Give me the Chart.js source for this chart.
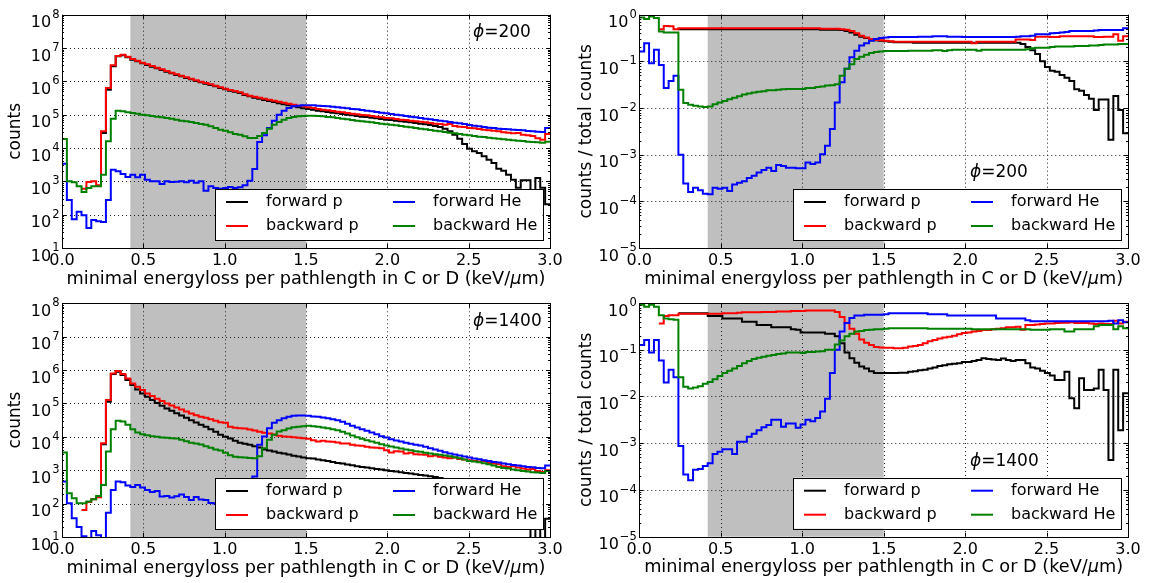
<!DOCTYPE html>
<html>
<head>
<meta charset="utf-8">
<script src="https://cdn.jsdelivr.net/npm/chart.js@4.4.0/dist/chart.umd.min.js"></script>
<style>
  body { margin: 0; background: #fff; }
  #wrap { position: relative; width: 1150px; height: 583px; }
  #wrap canvas { position: absolute; }
</style>
</head>
<body>
<div id="wrap">
  <canvas id="tl" width="575" height="291" style="left:0;top:0"></canvas>
  <canvas id="tr" width="575" height="291" style="left:575px;top:0"></canvas>
  <canvas id="bl" width="575" height="292" style="left:0;top:291px"></canvas>
  <canvas id="br" width="575" height="292" style="left:575px;top:291px"></canvas>
</div>
<script>
// ========== DATA ==========
// histogram bins: 100 bins of 0.03 keV/um from 0 to 3.0
const binWidth = 0.03;
const binStarts = Array.from({ length: 100 }, (_, i) => +(i * binWidth).toFixed(2));
const xTicks = [0, 0.5, 1.0, 1.5, 2.0, 2.5, 3.0];
const countExps = [1, 2, 3, 4, 5, 6, 7, 8];
const ratioExps = [-5, -4, -3, -2, -1, 0];
const seriesNames = ['forward p', 'backward p', 'forward He', 'backward He'];
const seriesColors = ['#000000', '#ff0000', '#0000ff', '#008000'];
const shadedRange = [0.42, 1.5];

// all values are log10 (counts or counts / total counts), null = empty bin
// --- phi = 200, counts ---
const fwdP200 = [
  null,null,null,null,null,null,null,null,4.45,5.75,
  6.45,6.75,6.78,6.72,6.65,6.6,6.54,6.49,6.44,6.39,
  6.34,6.29,6.24,6.19,6.15,6.1,6.06,6.01,5.97,5.93,
  5.89,5.85,5.8,5.76,5.72,5.69,5.65,5.59,5.55,5.51,
  5.48,5.44,5.41,5.38,5.34,5.31,5.28,5.25,5.22,5.19,
  5.17,5.15,5.12,5.1,5.08,5.06,5.04,5.02,5.0,4.98,
  4.96,4.94,4.93,4.91,4.89,4.87,4.85,4.84,4.82,4.8,
  4.79,4.77,4.75,4.73,4.71,4.69,4.66,4.63,4.58,4.5,
  4.4,4.28,4.12,3.98,3.9,3.85,3.75,3.65,3.55,3.38,
  3.32,3.2,3.05,2.81,3.03,3.03,2.17,3.1,2.81,2.31
];
const bwdP200 = [
  null,null,null,null,2.78,2.98,3.0,2.88,4.5,5.8,
  6.48,6.76,6.8,6.74,6.67,6.62,6.56,6.51,6.46,6.41,
  6.36,6.31,6.26,6.21,6.17,6.12,6.08,6.03,5.99,5.95,
  5.91,5.87,5.82,5.78,5.74,5.71,5.67,5.61,5.57,5.54,
  5.51,5.48,5.45,5.42,5.39,5.36,5.33,5.3,5.27,5.25,
  5.22,5.2,5.17,5.15,5.13,5.11,5.09,5.07,5.05,5.03,
  5.01,4.99,4.98,4.96,4.94,4.92,4.9,4.89,4.87,4.85,
  4.84,4.82,4.8,4.79,4.77,4.75,4.73,4.72,4.7,4.72,
  4.66,4.64,4.63,4.6,4.59,4.57,4.55,4.53,4.52,4.5,
  4.47,4.46,4.44,4.45,4.4,4.38,4.36,4.29,4.25,4.42
];
const fwdHe200 = [
  3.53,2.44,1.86,2.09,1.98,1.6,1.84,1.8,1.78,2.44,
  3.35,3.3,3.22,3.13,3.2,3.12,3.2,3.05,3.0,3.0,
  2.92,3.0,2.98,2.99,3.0,2.97,3.02,2.96,3.0,2.72,
  2.85,2.8,2.78,2.8,2.83,2.8,2.82,2.88,3.02,3.37,
  4.18,4.38,4.6,4.82,5.0,5.12,5.2,5.25,5.27,5.28,
  5.28,5.28,5.27,5.26,5.25,5.24,5.22,5.21,5.19,5.17,
  5.16,5.14,5.12,5.1,5.08,5.06,5.04,5.02,5.0,4.98,
  4.96,4.94,4.92,4.9,4.88,4.86,4.84,4.82,4.8,4.78,
  4.76,4.74,4.72,4.69,4.67,4.65,4.63,4.61,4.6,4.58,
  4.57,4.56,4.55,4.54,4.53,4.51,4.5,4.49,4.48,4.6
];
const bwdHe200 = [
  4.27,3.0,2.97,2.85,2.68,2.8,2.85,2.85,3.2,4.2,
  4.88,5.12,5.1,5.07,5.05,5.03,5.0,4.98,4.96,4.94,
  4.92,4.9,4.88,4.85,4.82,4.8,4.78,4.75,4.72,4.7,
  4.65,4.6,4.55,4.52,4.47,4.42,4.4,4.35,4.3,4.3,
  4.36,4.45,4.58,4.7,4.78,4.85,4.9,4.93,4.95,4.96,
  4.97,4.97,4.96,4.95,4.93,4.92,4.9,4.88,4.86,4.84,
  4.82,4.8,4.79,4.77,4.75,4.73,4.71,4.7,4.68,4.66,
  4.64,4.62,4.6,4.58,4.56,4.54,4.52,4.5,4.48,4.46,
  4.44,4.42,4.4,4.38,4.36,4.34,4.33,4.31,4.29,4.28,
  4.26,4.25,4.23,4.22,4.21,4.19,4.18,4.17,4.16,4.19
];

// --- phi = 200, counts / total counts ---
const fwdP200r = [
  null,null,null,null,null,null,null,null,-0.31,-0.31,
  -0.31,-0.31,-0.31,-0.31,-0.31,-0.31,-0.31,-0.31,-0.31,-0.31,
  -0.31,-0.31,-0.31,-0.31,-0.31,-0.31,-0.31,-0.31,-0.31,-0.31,
  -0.31,-0.31,-0.31,-0.31,-0.31,-0.31,-0.31,-0.32,-0.32,-0.32,
  -0.32,-0.33,-0.35,-0.38,-0.43,-0.47,-0.5,-0.53,-0.55,-0.56,
  -0.57,-0.58,-0.59,-0.59,-0.59,-0.59,-0.6,-0.6,-0.6,-0.6,
  -0.6,-0.6,-0.6,-0.6,-0.6,-0.6,-0.6,-0.6,-0.6,-0.6,
  -0.6,-0.6,-0.6,-0.6,-0.6,-0.6,-0.6,-0.6,-0.63,-0.69,
  -0.76,-0.84,-1.0,-1.12,-1.2,-1.22,-1.29,-1.35,-1.42,-1.6,
  -1.63,-1.72,-1.8,-2.04,-1.82,-1.82,-2.68,-1.74,-2.04,-2.54
];
const bwdP200r = [
  null,null,null,null,-0.31,-0.24,-0.25,-0.31,-0.29,-0.29,
  -0.29,-0.29,-0.29,-0.29,-0.29,-0.29,-0.29,-0.29,-0.29,-0.29,
  -0.29,-0.29,-0.29,-0.29,-0.29,-0.29,-0.29,-0.29,-0.29,-0.29,
  -0.29,-0.29,-0.29,-0.29,-0.29,-0.29,-0.29,-0.3,-0.3,-0.3,
  -0.3,-0.31,-0.32,-0.35,-0.4,-0.45,-0.49,-0.52,-0.54,-0.55,
  -0.56,-0.57,-0.58,-0.58,-0.58,-0.58,-0.58,-0.58,-0.58,-0.58,
  -0.58,-0.58,-0.58,-0.58,-0.58,-0.58,-0.58,-0.58,-0.61,-0.58,
  -0.58,-0.58,-0.58,-0.58,-0.58,-0.58,-0.58,-0.53,-0.53,-0.53,
  -0.54,-0.47,-0.47,-0.47,-0.48,-0.48,-0.46,-0.46,-0.46,-0.46,
  -0.46,-0.46,-0.46,-0.48,-0.48,-0.47,-0.47,-0.42,-0.56,-0.46
];
const fwdHe200r = [
  -0.79,-0.61,-1.04,-0.75,-1.08,-1.57,-1.42,-1.31,-3.0,-3.62,
  -3.8,-3.71,-3.76,-3.84,-3.85,-3.71,-3.73,-3.71,-3.78,-3.64,
  -3.6,-3.57,-3.5,-3.45,-3.38,-3.33,-3.28,-3.35,-3.22,-3.24,
  -3.28,-3.28,-3.29,-3.29,-3.17,-3.2,-3.17,-2.99,-2.81,-2.45,
  -1.88,-1.45,-1.16,-0.91,-0.77,-0.66,-0.61,-0.56,-0.52,-0.5,
  -0.49,-0.48,-0.48,-0.48,-0.48,-0.48,-0.48,-0.47,-0.47,-0.47,
  -0.46,-0.46,-0.46,-0.47,-0.47,-0.47,-0.48,-0.48,-0.48,-0.48,
  -0.48,-0.48,-0.48,-0.48,-0.48,-0.48,-0.48,-0.47,-0.46,-0.46,
  -0.45,-0.42,-0.42,-0.42,-0.4,-0.39,-0.38,-0.37,-0.35,-0.35,
  -0.35,-0.35,-0.35,-0.34,-0.33,-0.33,-0.33,-0.33,-0.33,-0.29
];
const bwdHe200r = [
  -0.06,-0.09,-0.04,-0.07,-0.36,-0.38,-0.38,-0.38,-1.61,-1.89,
  -1.93,-1.95,-1.97,-1.98,-1.97,-1.92,-1.88,-1.85,-1.81,-1.78,
  -1.75,-1.71,-1.69,-1.67,-1.65,-1.64,-1.62,-1.62,-1.61,-1.6,
  -1.59,-1.59,-1.59,-1.59,-1.57,-1.57,-1.55,-1.54,-1.52,-1.51,
  -1.49,-1.31,-1.16,-1.06,-0.95,-0.9,-0.86,-0.82,-0.8,-0.79,
  -0.78,-0.78,-0.78,-0.78,-0.78,-0.77,-0.77,-0.77,-0.77,-0.77,
  -0.76,-0.76,-0.78,-0.76,-0.75,-0.75,-0.75,-0.75,-0.75,-0.77,
  -0.75,-0.75,-0.75,-0.75,-0.75,-0.75,-0.75,-0.75,-0.75,-0.74,
  -0.72,-0.71,-0.71,-0.71,-0.69,-0.68,-0.68,-0.68,-0.68,-0.67,
  -0.67,-0.67,-0.66,-0.66,-0.65,-0.64,-0.64,-0.64,-0.63,-0.63
];

// --- phi = 1400, counts ---
const fwdP1400 = [
  null,null,null,null,null,null,null,null,3.78,5.05,
  5.88,5.95,5.85,5.7,5.55,5.42,5.3,5.2,5.1,5.01,
  4.93,4.85,4.78,4.71,4.64,4.57,4.5,4.43,4.36,4.3,
  4.23,4.15,4.06,4.0,3.95,3.88,3.82,3.79,3.76,3.72,
  3.68,3.62,3.59,3.56,3.52,3.5,3.47,3.43,3.41,3.38,
  3.36,3.35,3.32,3.3,3.28,3.25,3.22,3.2,3.17,3.15,
  3.12,3.1,3.08,3.06,3.04,3.02,3.0,2.98,2.96,2.94,
  2.92,2.9,2.88,2.86,2.84,2.82,2.8,2.77,2.74,2.7,
  2.65,2.6,2.55,2.5,2.4,2.35,2.3,2.2,1.6,1.35,
  2.0,1.75,1.75,1.75,2.1,1.65,-1,2.1,0.7,1.55
];
const bwdP1400 = [
  null,null,null,null,1.81,2.05,2.13,2.19,3.81,5.1,
  5.9,5.97,5.88,5.75,5.6,5.5,5.4,5.3,5.22,5.14,
  5.07,5.0,4.94,4.88,4.82,4.76,4.7,4.65,4.6,4.57,
  4.53,4.48,4.44,4.42,4.3,4.27,4.26,4.25,4.22,4.19,
  4.15,4.12,4.1,4.07,4.03,4.01,4.0,3.99,3.97,3.96,
  3.94,3.9,3.86,3.88,3.86,3.85,3.83,3.8,3.8,3.76,
  3.74,3.73,3.7,3.68,3.67,3.66,3.6,3.53,3.57,3.56,
  3.5,3.52,3.48,3.47,3.46,3.42,3.44,3.4,3.38,3.36,
  3.38,3.34,3.32,3.3,3.28,3.26,3.28,3.22,3.2,3.18,
  3.12,3.1,3.12,3.08,3.05,3.02,3.04,2.98,2.95,3.0
];
const fwdHe1400 = [
  2.66,2.01,1.56,1.3,1.02,0.95,1.18,1.05,0.95,1.73,
  2.41,2.66,2.64,2.54,2.5,2.56,2.48,2.41,2.35,2.38,
  2.21,2.23,2.18,2.22,2.27,2.2,2.11,2.2,2.12,2.11,
  2.02,2.0,2.05,2.1,2.15,2.1,2.2,2.3,2.45,2.81,
  3.76,4.01,4.26,4.42,4.5,4.56,4.6,4.63,4.64,4.64,
  4.63,4.61,4.6,4.58,4.56,4.53,4.5,4.45,4.39,4.33,
  4.28,4.23,4.18,4.13,4.08,4.02,3.98,3.93,3.89,3.86,
  3.82,3.79,3.76,3.74,3.7,3.66,3.62,3.58,3.54,3.5,
  3.47,3.44,3.41,3.38,3.35,3.33,3.3,3.28,3.25,3.23,
  3.2,3.18,3.16,3.14,3.12,3.1,3.09,3.07,3.06,3.14
];
const bwdHe1400 = [
  3.53,2.31,2.16,2.01,2.01,2.06,2.13,2.23,2.56,3.56,
  4.23,4.48,4.46,4.36,4.23,4.13,4.08,4.05,4.02,4.0,
  3.98,3.97,3.96,3.95,3.91,3.87,3.82,3.8,3.77,3.72,
  3.67,3.62,3.59,3.52,3.45,3.4,3.39,3.38,3.37,3.36,
  3.42,3.66,3.91,4.06,4.16,4.2,4.25,4.29,4.3,4.32,
  4.33,4.32,4.3,4.28,4.26,4.23,4.2,4.15,4.1,4.04,
  3.99,3.94,3.9,3.86,3.82,3.78,3.74,3.71,3.68,3.65,
  3.62,3.6,3.57,3.55,3.52,3.5,3.48,3.46,3.44,3.42,
  3.39,3.36,3.32,3.28,3.26,3.24,3.21,3.18,3.14,3.1,
  3.07,3.05,3.02,3.0,2.98,2.96,2.94,2.93,2.92,2.98
];

// --- phi = 1400, counts / total counts ---
const fwdP1400r = [
  null,null,null,null,null,null,null,null,-0.22,-0.22,
  -0.22,-0.22,-0.22,-0.22,-0.28,-0.28,-0.28,-0.33,-0.33,-0.33,
  -0.33,-0.4,-0.4,-0.4,-0.47,-0.47,-0.47,-0.52,-0.52,-0.52,
  -0.52,-0.56,-0.57,-0.63,-0.63,-0.63,-0.63,-0.63,-0.66,-0.66,
  -0.71,-0.86,-1.06,-1.18,-1.28,-1.36,-1.4,-1.46,-1.5,-1.5,
  -1.5,-1.5,-1.5,-1.49,-1.49,-1.47,-1.46,-1.44,-1.43,-1.4,
  -1.38,-1.35,-1.33,-1.31,-1.3,-1.29,-1.26,-1.26,-1.24,-1.22,
  -1.18,-1.2,-1.21,-1.22,-1.19,-1.22,-1.24,-1.22,-1.22,-1.29,
  -1.38,-1.4,-1.45,-1.5,-1.55,-1.65,-1.65,-1.47,-2.04,-2.25,
  -1.61,-1.86,-1.86,-1.83,-1.43,-1.86,-3.36,-1.43,-2.72,-1.93
];
const bwdP1400r = [
  null,null,null,null,-0.44,-0.28,-0.26,-0.26,-0.23,-0.23,
  -0.23,-0.23,-0.23,-0.23,-0.23,-0.23,-0.23,-0.22,-0.22,-0.22,
  -0.21,-0.2,-0.2,-0.2,-0.2,-0.19,-0.19,-0.19,-0.18,-0.18,
  -0.18,-0.17,-0.17,-0.17,-0.16,-0.16,-0.16,-0.16,-0.16,-0.16,
  -0.19,-0.3,-0.42,-0.55,-0.66,-0.78,-0.85,-0.9,-0.94,-0.95,
  -0.96,-0.96,-0.97,-0.97,-0.96,-0.93,-0.92,-0.9,-0.86,-0.82,
  -0.79,-0.76,-0.74,-0.72,-0.7,-0.67,-0.64,-0.63,-0.61,-0.6,
  -0.58,-0.58,-0.56,-0.55,-0.54,-0.52,-0.52,-0.51,-0.57,-0.47,
  -0.47,-0.46,-0.45,-0.44,-0.44,-0.43,-0.42,-0.42,-0.41,-0.43,
  -0.43,-0.43,-0.44,-0.45,-0.44,-0.45,-0.45,-0.38,-0.44,-0.4
];
const fwdHe1400r = [
  -0.9,-0.79,-1.06,-0.79,-1.23,-1.7,-1.43,-1.59,-3.06,-3.67,
  -3.79,-3.57,-3.55,-3.49,-3.43,-3.23,-3.18,-3.13,-3.13,-3.23,
  -2.97,-2.97,-2.86,-2.8,-2.72,-2.66,-2.61,-2.5,-2.5,-2.65,
  -2.58,-2.58,-2.67,-2.6,-2.5,-2.53,-2.46,-2.32,-2.05,-1.5,
  -1.0,-0.61,-0.43,-0.32,-0.27,-0.27,-0.25,-0.25,-0.25,-0.25,
  -0.24,-0.22,-0.22,-0.22,-0.22,-0.22,-0.22,-0.22,-0.22,-0.24,
  -0.24,-0.24,-0.24,-0.27,-0.27,-0.27,-0.27,-0.27,-0.27,-0.27,
  -0.27,-0.27,-0.27,-0.33,-0.33,-0.33,-0.33,-0.33,-0.33,-0.37,
  -0.39,-0.39,-0.39,-0.39,-0.39,-0.39,-0.39,-0.39,-0.39,-0.39,
  -0.39,-0.39,-0.39,-0.39,-0.39,-0.39,-0.38,-0.44,-0.37,-0.41
];
const bwdHe1400r = [
  -0.04,-0.08,-0.04,-0.08,-0.26,-0.33,-0.35,-0.36,-1.59,-1.79,
  -1.83,-1.81,-1.78,-1.73,-1.69,-1.63,-1.56,-1.5,-1.45,-1.4,
  -1.35,-1.29,-1.24,-1.2,-1.17,-1.15,-1.13,-1.11,-1.09,-1.08,
  -1.06,-1.06,-1.06,-1.07,-1.05,-1.05,-1.04,-1.03,-1.0,-1.0,
  -0.89,-0.8,-0.71,-0.66,-0.61,-0.6,-0.58,-0.57,-0.56,-0.56,
  -0.55,-0.54,-0.54,-0.54,-0.54,-0.54,-0.54,-0.54,-0.54,-0.55,
  -0.55,-0.55,-0.55,-0.55,-0.55,-0.55,-0.55,-0.55,-0.56,-0.56,
  -0.56,-0.56,-0.56,-0.56,-0.56,-0.56,-0.56,-0.56,-0.56,-0.56,
  -0.57,-0.57,-0.57,-0.57,-0.56,-0.56,-0.56,-0.61,-0.61,-0.56,
  -0.56,-0.56,-0.56,-0.5,-0.47,-0.47,-0.47,-0.56,-0.5,-0.54
];

// ========== HELPERS ==========
const FONT = '"DejaVu Sans", "Liberation Sans", sans-serif';

// step histogram points: value i holds from binStarts[i] to the next edge
function toPoints(logVals) {
  const pts = logVals.map((v, i) => ({ x: binStarts[i], y: v === null ? null : Math.pow(10, v) }));
  const last = logVals[logVals.length - 1];
  pts.push({ x: 3.0, y: last === null ? null : Math.pow(10, last) });
  return pts;
}

function crisp(v) {
  return Math.round(v) + 0.5;
}

// ========== DECORATION PLUGIN (matplotlib look) ==========
const decorPlugin = {
  id: 'decor',
  beforeDatasetsDraw(chart, args, opts) {
    const { ctx, chartArea: a } = chart;
    const x = chart.scales.x, y = chart.scales.y;
    ctx.save();
    // shaded band
    const x0 = x.getPixelForValue(shadedRange[0]);
    const x1 = x.getPixelForValue(shadedRange[1]);
    ctx.fillStyle = '#bfbfbf';
    ctx.fillRect(x0, a.top, x1 - x0, a.bottom - a.top);
    // dotted grid
    ctx.strokeStyle = '#222';
    ctx.lineWidth = 1;
    ctx.setLineDash([1, 3]);
    ctx.beginPath();
    xTicks.slice(1, -1).forEach(v => {
      const px = crisp(x.getPixelForValue(v));
      ctx.moveTo(px, a.top); ctx.lineTo(px, a.bottom);
    });
    opts.exps.slice(1, -1).forEach(e => {
      const py = crisp(y.getPixelForValue(Math.pow(10, e)));
      ctx.moveTo(a.left, py); ctx.lineTo(a.right, py);
    });
    ctx.stroke();
    ctx.restore();
  },
  afterDatasetsDraw(chart, args, opts) {
    const { ctx, chartArea: a } = chart;
    const x = chart.scales.x, y = chart.scales.y;
    ctx.save();
    ctx.setLineDash([]);
    ctx.strokeStyle = '#000';
    ctx.fillStyle = '#000';
    ctx.lineWidth = 1;

    // frame
    ctx.strokeRect(crisp(a.left), crisp(a.top), Math.round(a.right - a.left), Math.round(a.bottom - a.top));

    // ticks (inside, all four sides)
    ctx.beginPath();
    xTicks.forEach(v => {
      const px = crisp(x.getPixelForValue(v));
      ctx.moveTo(px, a.bottom); ctx.lineTo(px, a.bottom - 4);
      ctx.moveTo(px, a.top); ctx.lineTo(px, a.top + 4);
    });
    const maxExp = opts.exps[opts.exps.length - 1];
    opts.exps.forEach(e => {
      const py = crisp(y.getPixelForValue(Math.pow(10, e)));
      ctx.moveTo(a.left, py); ctx.lineTo(a.left + 4, py);
      ctx.moveTo(a.right, py); ctx.lineTo(a.right - 4, py);
      if (e < maxExp) {
        for (let k = 2; k <= 9; k++) {
          const pm = crisp(y.getPixelForValue(k * Math.pow(10, e)));
          ctx.moveTo(a.left, pm); ctx.lineTo(a.left + 2, pm);
          ctx.moveTo(a.right, pm); ctx.lineTo(a.right - 2, pm);
        }
      }
    });
    ctx.stroke();

    // x tick labels
    ctx.font = '16px ' + FONT;
    ctx.textAlign = 'center';
    ctx.textBaseline = 'alphabetic';
    xTicks.forEach(v => {
      ctx.fillText(v.toFixed(1), x.getPixelForValue(v), a.bottom + 17);
    });

    // y tick labels 10^n
    ctx.textAlign = 'left';
    opts.exps.forEach(e => {
      const py = y.getPixelForValue(Math.pow(10, e));
      ctx.font = '16px ' + FONT;
      const wBase = ctx.measureText('10').width;
      ctx.font = '11.5px ' + FONT;
      const sup = e < 0 ? '\u2212' + Math.abs(e) : String(e);
      const wSup = ctx.measureText(sup).width;
      const left = a.left - 2.5 - wBase - wSup - 1;
      ctx.font = '16px ' + FONT;
      ctx.fillText('10', left, py + 12.5);
      ctx.font = '11.5px ' + FONT;
      ctx.fillText(sup, left + wBase + 1, py + 3);
    });

    // x axis title with italic mu
    const partA = 'minimal energyloss per pathlength in C or D (keV/';
    const partB = '\u03bc';
    const partC = 'm)';
    const titleFont = '17.7px ' + FONT;
    ctx.font = titleFont;
    const wA = ctx.measureText(partA).width;
    const wC = ctx.measureText(partC).width;
    ctx.font = 'italic ' + titleFont;
    const wB = ctx.measureText(partB).width;
    const tx = (a.left + a.right) / 2 - (wA + wB + wC) / 2;
    const ty = a.bottom + 35.5;
    ctx.font = titleFont;
    ctx.fillText(partA, tx, ty);
    ctx.font = 'italic ' + titleFont;
    ctx.fillText(partB, tx + wA, ty);
    ctx.font = titleFont;
    ctx.fillText(partC, tx + wA + wB, ty);

    // y axis title
    ctx.save();
    ctx.translate(opts.ylabelX, (a.top + a.bottom) / 2);
    ctx.rotate(-Math.PI / 2);
    ctx.textAlign = 'center';
    ctx.textBaseline = 'middle';
    ctx.font = '17px ' + FONT;
    ctx.fillText(opts.ylabel, 0, 0);
    ctx.restore();

    // phi annotation
    ctx.textBaseline = 'middle';
    ctx.textAlign = 'left';
    const phiX = a.left + opts.phiPos[0];
    const phiY = a.top + opts.phiPos[1];
    ctx.font = 'italic 17px ' + FONT;
    ctx.fillText('\u03d5', phiX, phiY);
    const wPhi = ctx.measureText('\u03d5').width;
    ctx.font = '17px ' + FONT;
    ctx.fillText('=' + opts.phi, phiX + wPhi, phiY);

    // legend box (2 columns)
    const bw = 327.5, bh = 51;
    const bx = a.right - 7.5 - bw;
    const by = a.bottom - 8 - bh;
    ctx.fillStyle = '#fff';
    ctx.fillRect(bx, by, bw, bh);
    ctx.strokeStyle = '#000';
    ctx.strokeRect(crisp(bx), crisp(by), Math.round(bw), Math.round(bh));
    const colOff = [11, 178];
    const rowOff = [13, 37];
    ctx.font = '16px ' + FONT;
    ctx.textBaseline = 'middle';
    seriesNames.forEach((name, i) => {
      const cx = bx + colOff[Math.floor(i / 2)];
      const cy = by + rowOff[i % 2];
      ctx.strokeStyle = seriesColors[i];
      ctx.lineWidth = 2;
      ctx.beginPath();
      ctx.moveTo(cx, cy); ctx.lineTo(cx + 22, cy);
      ctx.stroke();
      ctx.fillStyle = '#000';
      ctx.fillText(name, cx + 40, cy);
    });
    ctx.restore();
  }
};

// ========== PANELS ==========
const panels = [
  { id: 'tl', series: [fwdP200, bwdP200, fwdHe200, bwdHe200], exps: countExps,
    ylabel: 'counts', ylabelX: 16, phi: '200', phiPos: [411, 18.3],
    pad: { left: 62, top: 14.7, right: 25, bottom: 43 } },
  { id: 'tr', series: [fwdP200r, bwdP200r, fwdHe200r, bwdHe200r], exps: ratioExps,
    ylabel: 'counts / total counts', ylabelX: 12, phi: '200', phiPos: [330.7, 158.3],
    pad: { left: 64.3, top: 14.7, right: 22, bottom: 43 } },
  { id: 'bl', series: [fwdP1400, bwdP1400, fwdHe1400, bwdHe1400], exps: countExps,
    ylabel: 'counts', ylabelX: 16, phi: '1400', phiPos: [411, 18.7],
    pad: { left: 62, top: 12.3, right: 25, bottom: 46 } },
  { id: 'br', series: [fwdP1400r, bwdP1400r, fwdHe1400r, bwdHe1400r], exps: ratioExps,
    ylabel: 'counts / total counts', ylabelX: 12, phi: '1400', phiPos: [330.7, 159],
    pad: { left: 64.3, top: 12, right: 22, bottom: 46.3 } }
];

function crearPanel(p) {
  const ctx = document.getElementById(p.id);
  const exps = p.exps;
  new Chart(ctx, {
    type: 'line',
    data: {
      datasets: p.series.map((vals, i) => ({
        label: seriesNames[i],
        data: toPoints(vals),
        borderColor: seriesColors[i],
        borderWidth: 2,
        pointRadius: 0,
        stepped: true,
        fill: false,
        spanGaps: false,
        clip: 0,
        order: 4 - i
      }))
    },
    options: {
      responsive: false,
      animation: false,
      events: [],
      layout: { padding: p.pad },
      scales: {
        x: { type: 'linear', min: 0, max: 3, display: false },
        y: { type: 'logarithmic', min: Math.pow(10, exps[0]), max: Math.pow(10, exps[exps.length - 1]), display: false }
      },
      plugins: {
        legend: { display: false },
        tooltip: { enabled: false },
        decor: { exps: exps, ylabel: p.ylabel, ylabelX: p.ylabelX, phi: p.phi, phiPos: p.phiPos }
      }
    },
    plugins: [decorPlugin]
  });
}

panels.forEach(crearPanel);
</script>
</body>
</html>
